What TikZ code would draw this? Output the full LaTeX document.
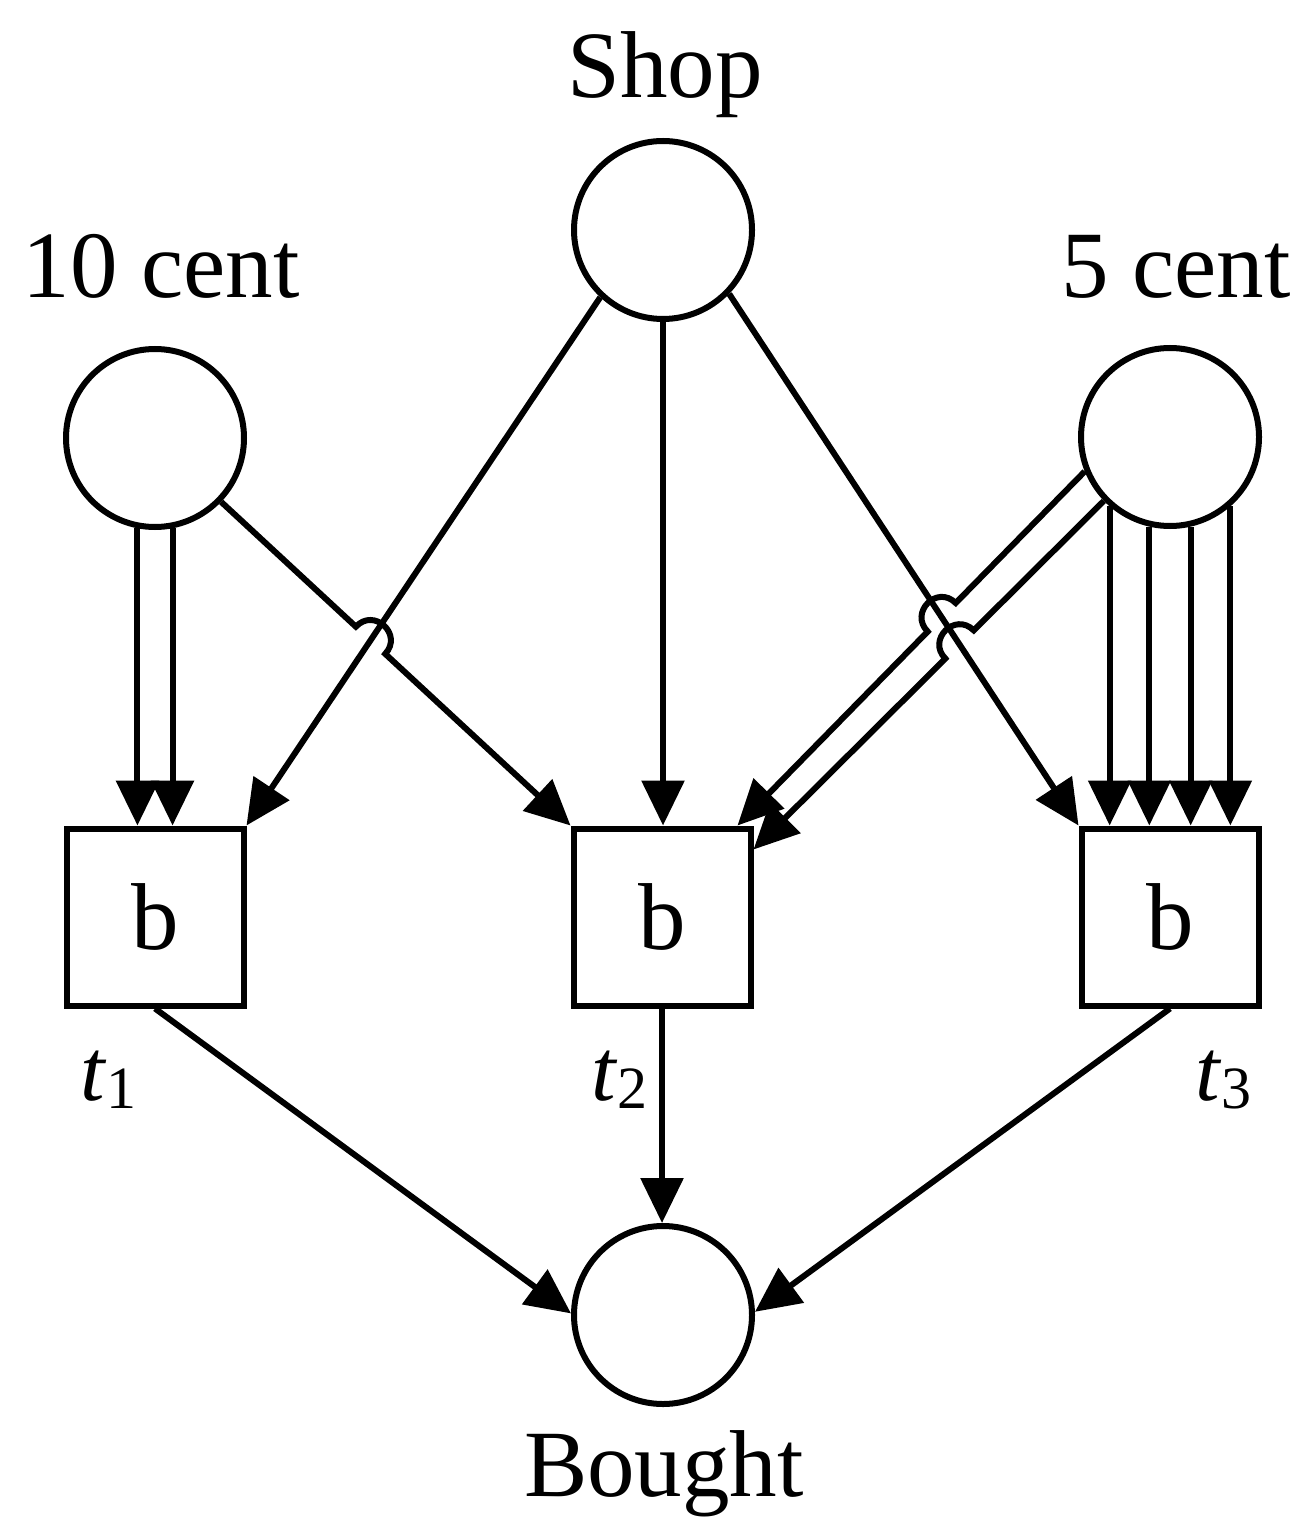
\documentclass[tikz,border=0pt]{standalone}
\usepackage{fontspec}
\setmainfont{Liberation Serif}
\usetikzlibrary{arrows.meta,calc,intersections}
\begin{document}
\begin{tikzpicture}[x=0.5pt,y=-0.5pt,
  place/.style={circle,draw,line width=3pt,minimum size=89pt,inner sep=0pt},
  trans/.style={rectangle,draw,line width=3pt,minimum size=88.5pt,inner sep=0pt,font=\fontsize{47.5}{50}\selectfont},
  lbl/.style={font=\fontsize{47.5}{57}\selectfont,inner sep=0pt,anchor=base},
  tlab/.style={font=\fontsize{44}{50}\selectfont,inner sep=0pt,anchor=base west},
  flow/.style={line width=3pt,-{Triangle[length=22.5pt,width=21pt]}},
  hop/.style={out=#1,in=#1,looseness=1.7}
]
\useasboundingbox (0,0) rectangle (1302,1518);

% places and transitions
\node[place] (shop) at (663,230) {};
\node[place] (c10) at (155,438) {};
\node[place] (c5) at (1170,437) {};
\node[place] (bought) at (663,1315) {};
\node[trans] (t1) at (155,917) {b};
\node[trans] (t2) at (662,917) {b};
\node[trans] (t3) at (1170,917) {b};

% labels
\node[lbl] (lshop) at (665,98) {Shop};
\node[lbl] (l10) at (161,298) {10 cent};
\node[lbl] (l5) at (1176,298) {5 cent};
\node[lbl] (lbought) at (664,1496) {Bought};
\node[tlab] (lt1) at (80,1100) {\textit{t}\raisebox{-4pt}{\fontsize{30}{32}\selectfont 1}};
\node[tlab] (lt2) at (591,1100) {\textit{t}\raisebox{-4pt}{\fontsize{30}{32}\selectfont 2}};
\node[tlab] (lt3) at (1195,1100) {\textit{t}\raisebox{-4pt}{\fontsize{30}{32}\selectfont 3}};

% Shop arcs
\draw[flow,name path=st1] (shop.227) -- (t1.north east);
\draw[flow] (shop.south) -- (shop.south |- t2.north);
\draw[flow,name path=st3] (shop.316) -- (t3.north west);

% 10 cent -> t1 (two arcs)
\draw[flow] (c10.259) -- (c10.259 |- t1.north);
\draw[flow] (c10.281) -- (c10.281 |- t1.north);

% 10 cent -> t2 with a hop over Shop -> t1
\path[name path=ct2] (c10.316) -- (t2.north west);
\path[name intersections={of=st1 and ct2,by=X1}];
\draw[flow] (c10.316) -- ($(X1)!10pt!(c10.316)$) to[hop=47] ($(X1)!10pt!(t2.north west)$) -- (t2.north west);

% 5 cent -> t2 (two arcs) with hops over Shop -> t3
\coordinate (e1) at ($(t2.north east)+(-16,0)$);
\coordinate (e2) at ($(t2.north east)+(0,24)$);
\path[name path=f1] (c5.202.5) -- (e1);
\path[name path=f2] (c5.224) -- (e2);
\path[name intersections={of=st3 and f1,by=X2}];
\path[name intersections={of=st3 and f2,by=X3}];
\draw[flow] (c5.202.5) -- ($(X2)!10pt!(c5.202.5)$) to[hop=135] ($(X2)!10pt!(e1)$) -- (e1);
\draw[flow] (c5.224) -- ($(X3)!10pt!(c5.224)$) to[hop=135] ($(X3)!10pt!(e2)$) -- (e2);

% 5 cent -> t3 (four arcs)
\draw[flow] (c5.229.3) -- (c5.229.3 |- t3.north);
\draw[flow] (c5.257.7) -- (c5.257.7 |- t3.north);
\draw[flow] (c5.283) -- (c5.283 |- t3.north);
\draw[flow] (c5.311.5) -- (c5.311.5 |- t3.north);

% transitions -> Bought
\draw[flow] (t1.south) -- (bought.179);
\draw[flow] (t2.south) -- (t2.south |- bought.north);
\draw[flow] (t3.south) -- (bought.2);
\end{tikzpicture}
\end{document}
